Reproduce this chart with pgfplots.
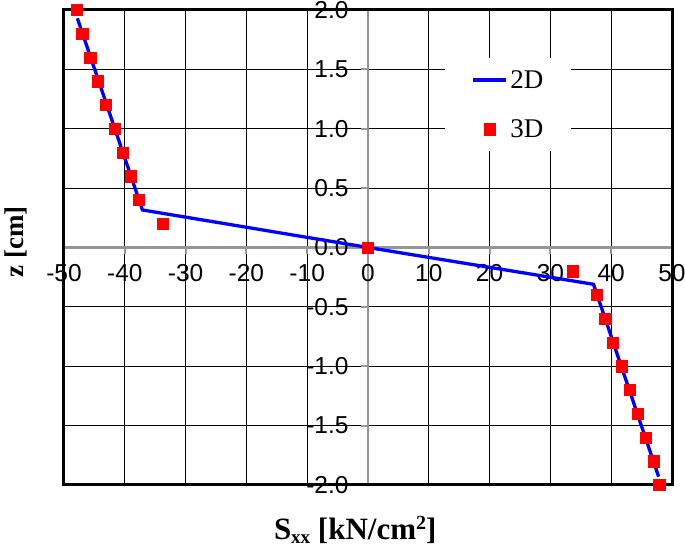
\documentclass[border=0pt]{standalone}
\usepackage{pgfplots}
\pgfplotsset{compat=1.18}
\usepackage{fontspec}
\setmainfont{Liberation Serif}
\newfontfamily\arial{Liberation Sans}
\definecolor{zgray}{RGB}{150,150,150}

\pgfplotsset{
  lineleg/.style={legend image code/.code={\draw[##1] (0bp,0bp) -- (33bp,0bp);}},
  markleg/.style={legend image code/.code={%
      \draw[##1, only marks, mark repeat=2, mark phase=2]
        plot coordinates {(0bp,0bp) (16.5bp,0bp) (33bp,0bp)};}},
}

\begin{document}
\begin{tikzpicture}
\begin{axis}[
  name=ax,
  scale only axis, width=608bp, height=475bp,
  xmin=-50, xmax=50, ymin=-2, ymax=2,
  axis lines=middle,
  axis line style={-, zgray, line width=2.8bp},
  xtick={-50,-40,...,50},
  xticklabels={-50,-40,-30,-20,-10,0,10,20,30,40,50},
  ytick={-2,-1.5,...,2},
  yticklabels={-2.0,-1.5,-1.0,-0.5,0.0,0.5,1.0,1.5,2.0},
  hide obscured x ticks=false, hide obscured y ticks=false,
  tick align=outside, major tick length=7bp,
  tick style={zgray, line width=2bp},
  grid=major, grid style={black, line width=1.2bp},
  tick label style={font=\fontsize{24.5bp}{28bp}\arial},
  xticklabel style={yshift=-6.5bp},
  yticklabel style={xshift=-9bp},
  clip=false,
  xlabel={\bfseries S\raisebox{-4.5bp}{\fontsize{19bp}{19bp}\selectfont xx} [kN/cm\raisebox{10bp}{\fontsize{20bp}{20bp}\selectfont 2}]},
  ylabel={\bfseries z [cm]},
  x label style={at={(axis description cs:0.479,-0.114)}, anchor=base, inner sep=0pt,
    font=\fontsize{31bp}{36bp}\selectfont},
  y label style={at={(axis description cs:-0.0674,0.5116)}, anchor=base, rotate=90,
    font=\fontsize{27bp}{32bp}\selectfont},
  legend style={at={(axis cs:12.66,1.596)}, anchor=north west, draw=none, fill=white,
    font=\fontsize{27bp}{32bp}\selectfont, inner xsep=26bp, inner ysep=10bp,
    row sep=26bp, column sep=1bp, nodes={inner sep=2bp}},
]
\draw[black, line width=3bp] (rel axis cs:0,0) rectangle (rel axis cs:1,1);

\addplot[blue, line width=3.3bp, lineleg]
  coordinates {(-47.8,1.93) (-37.1,0.316) (0,0) (37.1,-0.31) (47.8,-1.93)};
\addlegendentry{2D}

\addplot[only marks, mark=square*, mark size=5.6bp, red, mark options={draw=red, fill=red}, markleg]
  coordinates {
    (-47.9,2.0) (-47.0,1.8) (-45.7,1.6) (-44.4,1.4) (-43.1,1.2) (-41.7,1.0)
    (-40.3,0.8) (-39.0,0.6) (-37.7,0.4) (-33.8,0.2) (0,0)
    (33.7,-0.2) (37.6,-0.4) (39.0,-0.6) (40.3,-0.8) (41.7,-1.0) (43.0,-1.2)
    (44.3,-1.4) (45.7,-1.6) (47.0,-1.8) (47.9,-2.0)
  };
\addlegendentry{3D}
\end{axis}
\pgfresetboundingbox
\path ([shift={(-64bp,-64bp)}]ax.south west) rectangle ([shift={(13bp,10bp)}]ax.north east);
\end{tikzpicture}
\end{document}
